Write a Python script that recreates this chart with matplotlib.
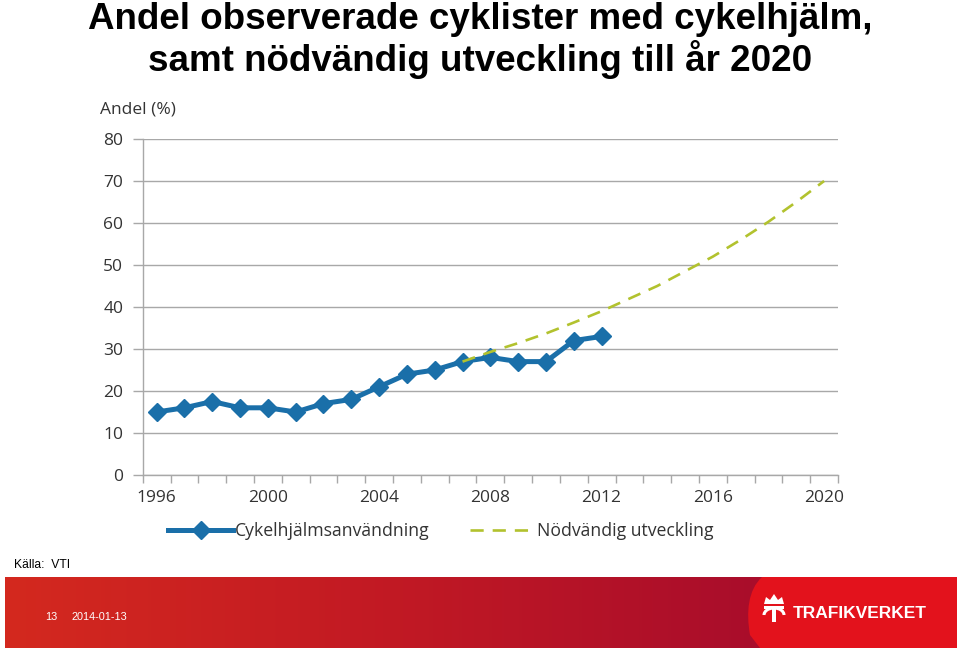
import matplotlib
matplotlib.use('Agg')
import matplotlib.pyplot as plt
import numpy as np
from matplotlib.patches import PathPatch, Polygon, Arc, Rectangle
from matplotlib.path import Path
from matplotlib.lines import Line2D

# data
helmet_years = list(range(1996, 2013))
helmet_share = [15, 16, 17.5, 16, 16, 15, 17, 18, 21, 24, 25, 27, 28, 27, 27, 32, 33]
needed_years = list(range(2007, 2021))
needed_share = [27, 29.3, 31.4, 33.7, 36.3, 39, 42, 45, 48.5, 52, 56, 60.3, 65, 70]
label_years = [1996, 2000, 2004, 2008, 2012, 2016, 2020]
y_ticks = [0, 10, 20, 30, 40, 50, 60, 70, 80]

title = 'Andel observerade cyklister med cykelhjälm,\nsamt nödvändig utveckling till år 2020'
legend_labels = ['Cykelhjälmsanvändning', 'Nödvändig utveckling']

BLUE = '#1a6fa9'
GREEN = '#b2c22e'
GRID = '#a8a8a8'
TXT = '#333333'
FW, FH = 960, 650

fig = plt.figure(figsize=(9.6, 6.5), dpi=100)
fig.patch.set_facecolor('white')

def fx(px):
    return px / FW

def fy(py):
    return 1 - py / FH

# title
fig.text(0.5, fy(2), title, ha='center', va='top', fontsize=26.5, fontweight='bold',
         family='Liberation Sans', linespacing=1.09, color='black')

# main chart
ax = fig.add_axes([fx(142.7), fy(475), fx(838) - fx(142.7), fy(139) - fy(475)])
ax.plot(helmet_years, helmet_share, color=BLUE, lw=3.6, marker='D', ms=9.5,
        mec=BLUE, mfc=BLUE, zorder=4)
# the dashed target curve sits on top of the measured line
ax.plot(needed_years, needed_share, color=GREEN, lw=1.9, ls=(0, (5, 3.4)), zorder=5)

ax.set_xlim(1995.5, 2020.5)
ax.set_ylim(0, 80)
ax.set_yticks(y_ticks)
ax.set_xticks(label_years)
ax.set_xticks(np.arange(1995.5, 2021, 1), minor=True)
ax.tick_params(axis='x', which='major', length=0, pad=11, labelsize=12.5, labelcolor=TXT)
ax.tick_params(axis='x', which='minor', length=6, width=1, color=GRID)
ax.tick_params(axis='y', which='major', length=7, width=1, color=GRID, pad=7,
               labelsize=12.5, labelcolor=TXT)
for lab in ax.get_xticklabels() + ax.get_yticklabels():
    lab.set_family('Open Sans')
ax.yaxis.grid(True, color=GRID, lw=1)
ax.set_axisbelow(True)
for s in ['top', 'right']:
    ax.spines[s].set_visible(False)
for s in ['left', 'bottom']:
    ax.spines[s].set_color(GRID)
    ax.spines[s].set_linewidth(1)

fig.text(fx(100), fy(110), 'Andel (%)', ha='left', va='center', fontsize=12.5,
         family='Open Sans', color=TXT)

# legend
handles = [Line2D([], [], color=BLUE, lw=3.6, marker='D', ms=9),
           Line2D([], [], color=GREEN, lw=1.9, ls=(0, (5, 3.4)))]
fig.legend(handles, legend_labels, loc='center', bbox_to_anchor=(fx(441), fy(531)),
           ncol=2, frameon=False, handlelength=3.7, handletextpad=0.1,
           columnspacing=2.3, prop={'family': 'Open Sans', 'size': 12.7})
for t in fig.legends[0].get_texts():
    t.set_color(TXT)

# source
fig.text(fx(14), fy(565), 'Källa:  VTI', ha='left', va='center', fontsize=8.7,
         family='Liberation Sans', color='black')

# footer band
fax = fig.add_axes([fx(5), fy(648), fx(957) - fx(5), fy(577) - fy(648)])
fax.set_xlim(5, 957)
fax.set_ylim(648, 577)
fax.axis('off')
grad = np.array([[0.83, 0.16, 0.12], [0.76, 0.10, 0.14], [0.66, 0.05, 0.17]])
xs = np.linspace(0, 1, 300)
img = np.stack([np.interp(xs, [0, 0.5, 1], grad[:, k]) for k in range(3)], axis=-1)
fax.imshow(img[None, :, :], extent=[5, 770, 648, 577], aspect='auto', zorder=1)
verts = [(762, 577), (748, 590), (746, 612), (750, 635), (760, 648), (957, 648),
         (957, 577), (762, 577)]
codes = [Path.MOVETO, Path.CURVE4, Path.CURVE4, Path.CURVE4, Path.LINETO,
         Path.LINETO, Path.LINETO, Path.CLOSEPOLY]
fax.add_patch(PathPatch(Path(verts, codes), facecolor='#e3121c', edgecolor='none', zorder=2))

# logo mark: crown, T and anchor arc
fax.add_patch(Polygon([(764, 604), (766, 597), (770, 600), (774, 594), (778, 600),
                       (782, 597), (784, 604)], closed=True, fc='white', ec='none', zorder=3))
fax.add_patch(Rectangle((764, 606), 20, 3, fc='white', ec='none', zorder=3))
fax.add_patch(Rectangle((772, 606), 4, 16, fc='white', ec='none', zorder=3))
fax.add_patch(Arc((774, 615), 20, 14, theta1=180, theta2=360, color='white', lw=2.2, zorder=3))

fax.text(793, 613, 'TRAFIKVERKET', ha='left', va='center', fontsize=12.5,
         fontweight='bold', family='Liberation Sans', color='white', zorder=4)
fax.text(45, 617, '13', ha='left', va='center', fontsize=7.8, family='Liberation Sans',
         color='white', zorder=4)
fax.text(72, 617, '2014-01-13', ha='left', va='center', fontsize=7.8,
         family='Liberation Sans', color='white', zorder=4)

fig.savefig('out.png', dpi=100)
